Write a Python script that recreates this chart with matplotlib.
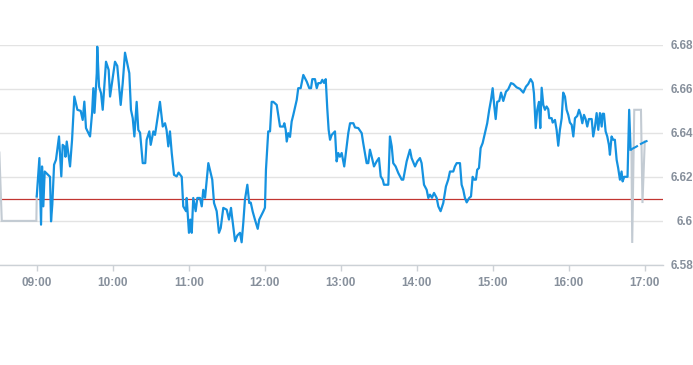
import matplotlib
matplotlib.use("Agg")
import matplotlib.pyplot as plt

plt.rcParams['font.family'] = ['Liberation Sans', 'DejaVu Sans']

# minutes since 09:00 and price values (main blue series)
main_min = [0, 2.1, 3.4, 4.2, 5.2, 6.3, 8.1, 10.5, 11.3, 12.3, 13.7, 15.2, 17.6, 19.4, 20.5, 22.1, 22.7, 23.7,
            26.3, 27.9, 29.7, 32.1, 34.7, 36.3, 37.6, 38.9, 42.1, 43.7, 44.7, 45.6, 47.4, 47.8, 49.2, 50.8,
            52.1, 54.7, 56.8, 57.9, 61.8, 63.6, 66.3, 67.9, 69.7, 73.1, 74.4, 75.8, 77.1, 78.9, 80.2, 81.6,
            83.7, 85.7, 86.8, 88.9, 90.0, 92.1, 93.4, 97.3, 99.5, 101.3, 102.5, 103.9, 105.2, 106.6, 108.4,
            110.5, 112.0, 114.5, 115.7, 117.9, 118.4, 120.2, 121.3, 122.4, 123.6, 125.5, 126.8, 128.9, 130.3,
            131.5, 132.9, 135.5, 138.6, 140.0, 142.1, 143.9, 145.3, 147.3, 150.0, 151.8, 153.4, 154.0, 156.6,
            158.4, 160.5, 161.8, 163.1, 164.4, 166.3, 167.8, 169.0, 170.5, 172.3, 174.5, 175.7, 178.9, 180.2,
            181.0, 182.8, 184.2, 185.5, 186.8, 189.5, 192.1, 194.7, 195.5, 196.6, 197.4, 198.6, 200.0, 201.3,
            202.6, 205.3, 206.5, 208.4, 210.5, 213.2, 215.2, 216.6, 217.6, 219.7, 221.1, 222.3, 224.2, 225.5,
            226.8, 228.2, 229.4, 230.5, 231.6, 232.9, 235.5, 236.8, 238.1, 239.4, 240.8, 242.8, 244.7, 246.0,
            247.4, 250.0, 251.3, 253.9, 256.6, 257.8, 260.5, 261.8, 263.1, 264.5, 266.3, 268.4, 270.2, 271.6,
            273.2, 274.2, 277.6, 278.9, 280.3, 281.5, 283.4, 285.5, 288.2, 289.4, 292.1, 294.7, 296.0, 298.7,
            300.5, 302.6, 303.9, 305.8, 307.9, 309.2, 310.5, 312.1, 313.7, 315.8, 317.1, 318.9, 321.0, 323.1,
            324.9, 326.3, 328.9, 330.2, 331.6, 334.2, 335.5, 336.8, 338.1, 339.5, 341.5, 342.9, 344.2, 345.5,
            346.8, 347.8, 349.2, 350.5, 352.1, 353.9, 355.7, 357.3, 358.7, 360.0, 361.3, 362.4, 363.6, 365.2,
            366.6, 368.4, 370.5, 372.3, 374.5, 376.3, 378.9, 381.5, 384.2, 386.3, 388.1, 390.0, 391.6, 392.6,
            394.0, 395.2, 396.6, 397.6, 398.7, 400.0, 401.3, 402.6, 403.9, 404.7, 406.6, 407.4, 409.2, 410.5,
            411.8, 413.1, 414.5, 415.7, 417.1, 418.4, 419.7, 421.0, 422.4, 423.7, 425.0, 426.8, 428.2, 429.5,
            430.8, 432.1, 433.4, 434.7, 436.0, 438.2, 439.4, 440.8, 442.1, 443.4, 444.7, 446.1, 446.8, 447.9,
            449.2, 450.5, 451.8, 452.6, 453.9, 455.2, 456.5, 457.9, 459.1, 460.5, 461.8, 462.6, 463.9, 466.5,
            467.8, 468.9]
main_val = [6.6111, 6.6285, 6.5983, 6.6247, 6.6066, 6.6224, 6.6214, 6.6200, 6.5998, 6.6074, 6.6255, 6.6277,
            6.6383, 6.6202, 6.6345, 6.6336, 6.6291, 6.6360, 6.6247, 6.6368, 6.6564, 6.6504, 6.6499, 6.6458,
            6.6541, 6.6421, 6.6383, 6.6489, 6.6602, 6.6490, 6.6670, 6.6790, 6.6609, 6.6579, 6.6504, 6.6722,
            6.6685, 6.6564, 6.6722, 6.6703, 6.6526, 6.6625, 6.6763, 6.6670, 6.6504, 6.6466, 6.6383, 6.6540,
            6.6413, 6.6400, 6.6262, 6.6262, 6.6368, 6.6406, 6.6345, 6.6406, 6.6390, 6.6540, 6.6428, 6.6443,
            6.6413, 6.6338, 6.6406, 6.6308, 6.6209, 6.6202, 6.6219, 6.6200, 6.6066, 6.6044, 6.6104, 6.5946,
            6.6006, 6.5946, 6.6104, 6.6044, 6.6104, 6.6104, 6.6066, 6.6141, 6.6105, 6.6262, 6.6187, 6.6081,
            6.6044, 6.5946, 6.5968, 6.6059, 6.6051, 6.6006, 6.6059, 6.6029, 6.5908, 6.5934, 6.5946, 6.5903,
            6.5991, 6.6096, 6.6164, 6.6081, 6.6083, 6.6043, 6.6006, 6.5964, 6.6006, 6.6043, 6.6060, 6.6232,
            6.6406, 6.6406, 6.6540, 6.6540, 6.6526, 6.6428, 6.6428, 6.6443, 6.6413, 6.6360, 6.6398, 6.6381,
            6.6451, 6.6481, 6.6549, 6.6602, 6.6602, 6.6662, 6.6632, 6.6602, 6.6602, 6.6643, 6.6643, 6.6602,
            6.6625, 6.6625, 6.6640, 6.6626, 6.6643, 6.6511, 6.6413, 6.6368, 6.6390, 6.6406, 6.6270, 6.6308,
            6.6291, 6.6308, 6.6247, 6.6338, 6.6398, 6.6443, 6.6443, 6.6424, 6.6421, 6.6398, 6.6353, 6.6262,
            6.6262, 6.6323, 6.6291, 6.6247, 6.6270, 6.6285, 6.6202, 6.6187, 6.6164, 6.6164, 6.6383, 6.6338,
            6.6262, 6.6247, 6.6217, 6.6187, 6.6187, 6.6270, 6.6323, 6.6285, 6.6247, 6.6270, 6.6285, 6.6262,
            6.6164, 6.6141, 6.6104, 6.6119, 6.6105, 6.6127, 6.6104, 6.6066, 6.6044, 6.6081, 6.6156, 6.6187,
            6.6224, 6.6224, 6.6247, 6.6262, 6.6262, 6.6164, 6.6141, 6.6104, 6.6084, 6.6104, 6.6111, 6.6200,
            6.6187, 6.6187, 6.6232, 6.6240, 6.6330, 6.6353, 6.6398, 6.6443, 6.6504, 6.6549, 6.6602, 6.6519,
            6.6462, 6.6540, 6.6544, 6.6582, 6.6544, 6.6586, 6.6597, 6.6625, 6.6621, 6.6606, 6.6599, 6.6582,
            6.6609, 6.6621, 6.6643, 6.6627, 6.6579, 6.6421, 6.6504, 6.6540, 6.6421, 6.6604, 6.6526, 6.6504,
            6.6519, 6.6507, 6.6466, 6.6466, 6.6446, 6.6458, 6.6413, 6.6341, 6.6413, 6.6466, 6.6582, 6.6564,
            6.6504, 6.6481, 6.6446, 6.6436, 6.6383, 6.6466, 6.6476, 6.6504, 6.6481, 6.6443, 6.6481, 6.6462,
            6.6428, 6.6462, 6.6462, 6.6383, 6.6428, 6.6489, 6.6413, 6.6489, 6.6428, 6.6486, 6.6486, 6.6406,
            6.6383, 6.6345, 6.6300, 6.6383, 6.6368, 6.6368, 6.6277, 6.6240, 6.6187, 6.6224, 6.6179, 6.6200,
            6.6200, 6.6504, 6.6323]

# trailing thin blue segment
tail_min = [468.9, 473.2, 477.2, 480.3, 482.9]
tail_val = [6.6323, 6.6336, 6.6350, 6.6359, 6.6365]

# grey series (pre-open and closing auction)
pre_min = [-29.5, -27.6, -0.3, 0.0]
pre_val = [6.6310, 6.6000, 6.6000, 6.6111]
post_min = [469.6, 470.2, 471.8, 477.1, 478.3, 480.1]
post_val = [6.6323, 6.5900, 6.6504, 6.6504, 6.6081, 6.6360]

ref_value = 6.61

x_ticks = [0, 60, 120, 180, 240, 300, 360, 420, 480]
x_labels = ['09:00', '10:00', '11:00', '12:00', '13:00', '14:00', '15:00', '16:00', '17:00']
y_ticks = [6.58, 6.60, 6.62, 6.64, 6.66, 6.68]
y_labels = ['6.58', '6.6', '6.62', '6.64', '6.66', '6.68']

fig = plt.figure(figsize=(6.93, 3.65), dpi=100)
ax = fig.add_axes([0.0, 0.274, 0.9567, 0.604])

blue = '#1592e0'
grey = '#c3cbd3'

ax.plot(pre_min, pre_val, color=grey, lw=1.5, zorder=3, solid_joinstyle='miter')
ax.plot(post_min, post_val, color=grey, lw=1.5, zorder=3, solid_joinstyle='miter')
ax.plot(main_min, main_val, color=blue, lw=1.6, zorder=4)
ax.plot(tail_min, tail_val, color=blue, lw=1.5, zorder=4, linestyle=(0, (4, 1.2)))
ax.axhline(ref_value, color='#c23531', lw=0.9, zorder=2)

ax.set_xlim(-29.0, 494.5)
ax.set_ylim(6.58, 6.68)

ax.set_yticks(y_ticks)
ax.set_yticklabels(y_labels)
ax.set_xticks(x_ticks)
ax.set_xticklabels(x_labels)

ax.yaxis.tick_right()
ax.grid(axis='y', color='#e3e3e3', lw=1.0, zorder=0)
ax.set_axisbelow(True)
for s in ['top', 'left', 'right']:
    ax.spines[s].set_visible(False)
ax.spines['bottom'].set_color('#ccd1d6')
ax.spines['bottom'].set_linewidth(1.0)

ax.tick_params(axis='y', length=0, pad=21.6, labelsize=8.5, labelcolor='#87909c')
for lbl in ax.get_yticklabels():
    lbl.set_horizontalalignment('right')
    lbl.set_fontweight('bold')
ax.tick_params(axis='x', length=4, width=1.0, color='#ccd1d6', pad=5, labelsize=8.5, labelcolor='#87909c')
for lbl in ax.get_xticklabels():
    lbl.set_fontweight('bold')

fig.savefig('out.png', dpi=100)
